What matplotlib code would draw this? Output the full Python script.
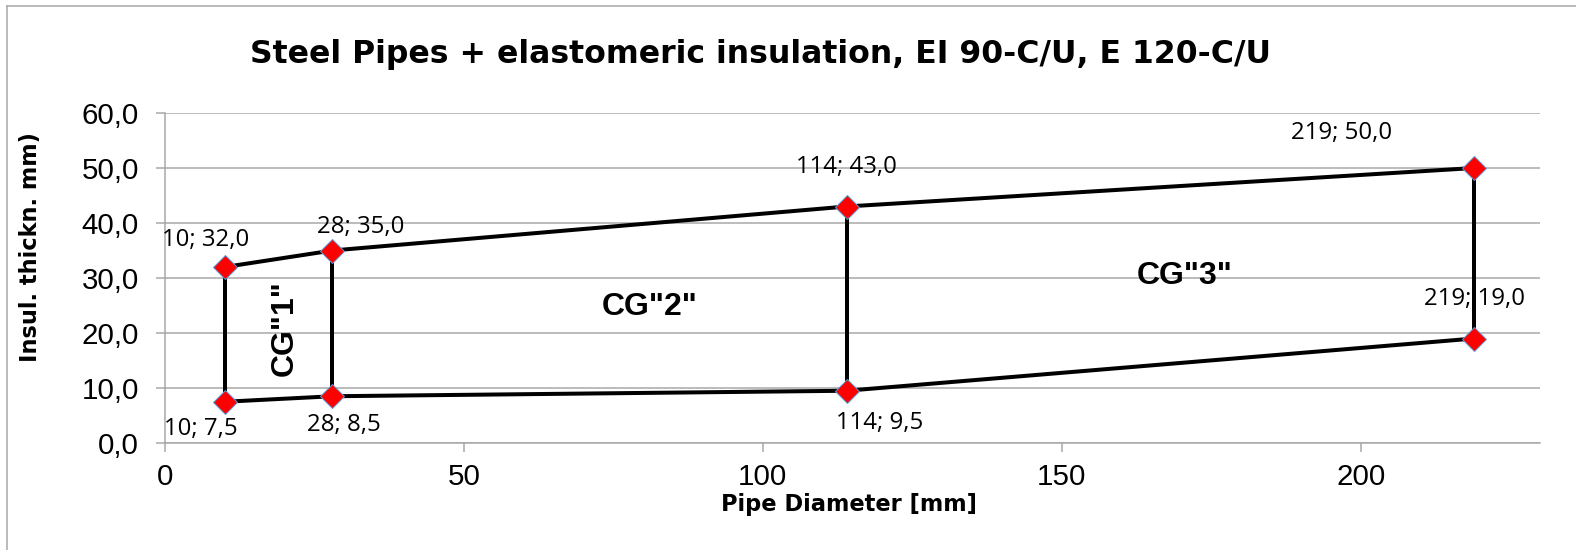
import matplotlib.pyplot as plt
from matplotlib.ticker import FuncFormatter
from matplotlib.lines import Line2D

# =====================================================
# DATA
# =====================================================

diameters = [10, 28, 114, 219]
thick_max = [32.0, 35.0, 43.0, 50.0]
thick_min = [7.5, 8.5, 9.5, 19.0]

group_labels = ['CG"1"', 'CG"2"', 'CG"3"']

# label offsets in pixels (dx, dy) for max / min points
off_max = [(-19, 27), (28, 24), (0, 39), (-133, 35)]
off_min = [(-24, -27), (11, -29), (33, -32), (0, 39)]

# =====================================================
# FIGURE
# =====================================================

W, H = 1576, 550
DPI = 72
fig = plt.figure(figsize=(W / DPI, H / DPI), dpi=DPI)

ax = fig.add_axes([165 / W, 1 - 443 / H, (1540 - 165) / W, (443 - 113) / H])

grid_c = "#a6a6a6"

# upper + lower curves
ax.plot(diameters, thick_max, color="black", linewidth=4, zorder=3)
ax.plot(diameters, thick_min, color="black", linewidth=4, zorder=3)

# vertical bounds at each diameter
for d, lo, hi in zip(diameters, thick_min, thick_max):
    ax.plot([d, d], [lo, hi], color="black", linewidth=4, zorder=3)

# markers
ax.plot(diameters + diameters, thick_max + thick_min, linestyle="none",
        marker="D", markersize=17, markerfacecolor="#ff0000",
        markeredgecolor="#5b9bd5", markeredgewidth=1, zorder=4)


def fmt_label(x, y):
    return f"{x}; {y:.1f}".replace(".", ",")


for d, v, (dx, dy) in zip(diameters, thick_max, off_max):
    ax.annotate(fmt_label(d, v), (d, v), xytext=(dx, dy),
                textcoords="offset points", ha="center", va="center",
                fontsize=24, family="Open Sans", zorder=5)

for d, v, (dx, dy) in zip(diameters, thick_min, off_min):
    ax.annotate(fmt_label(d, v), (d, v), xytext=(dx, dy),
                textcoords="offset points", ha="center", va="center",
                fontsize=24, family="Open Sans", zorder=5)

# group labels
ax.text(20, 20.9, group_labels[0], rotation=90, ha="center", va="center",
        fontsize=32, fontweight="bold", family="Liberation Sans")
ax.text(81, 24.8, group_labels[1], ha="center", va="center",
        fontsize=32, fontweight="bold", family="Liberation Sans")
ax.text(170.5, 30.4, group_labels[2], ha="center", va="center",
        fontsize=32, fontweight="bold", family="Liberation Sans")

# =====================================================
# AXES STYLE
# =====================================================

ax.set_xlim(0, 230)
ax.set_ylim(0, 60)
ax.set_xticks([0, 50, 100, 150, 200])
ax.set_yticks([0, 10, 20, 30, 40, 50, 60])
ax.yaxis.set_major_formatter(FuncFormatter(lambda v, p: f"{v:.1f}".replace(".", ",")))

ax.grid(axis="y", color=grid_c, linewidth=1.5)
ax.set_axisbelow(True)
for s in ["top", "right"]:
    ax.spines[s].set_visible(False)
for s in ["left", "bottom"]:
    ax.spines[s].set_color(grid_c)
    ax.spines[s].set_linewidth(1.5)

ax.tick_params(axis="both", colors=grid_c, width=1.5, length=9,
               labelcolor="black", labelsize=29.5)
ax.tick_params(axis="y", pad=17)
ax.tick_params(axis="x", pad=11)
for lab in ax.get_xticklabels() + ax.get_yticklabels():
    lab.set_family("Liberation Sans")

# =====================================================
# TITLES
# =====================================================

fig.text(760 / W, 1 - 55 / H,
         "Steel Pipes + elastomeric insulation, EI 90-C/U, E 120-C/U",
         ha="center", va="center", fontsize=31.5, fontweight="bold",
         family="DejaVu Sans")

fig.text(849 / W, 1 - 505 / H, "Pipe Diameter [mm]", ha="center",
         va="center", fontsize=22.5, fontweight="bold", family="DejaVu Sans")

fig.text(30 / W, 1 - 247 / H, "Insul. thickn. mm)", rotation=90,
         ha="center", va="center", fontsize=22.5, fontweight="bold",
         family="DejaVu Sans")

# outer frame
fig.add_artist(Line2D([7 / W, 7 / W], [0, 1 - 6 / H], transform=fig.transFigure,
                      color="#a6a6a6", linewidth=1.5))
fig.add_artist(Line2D([7 / W, 1], [1 - 6 / H, 1 - 6 / H], transform=fig.transFigure,
                      color="#a6a6a6", linewidth=1.5))

fig.savefig("out.png", dpi=DPI)
